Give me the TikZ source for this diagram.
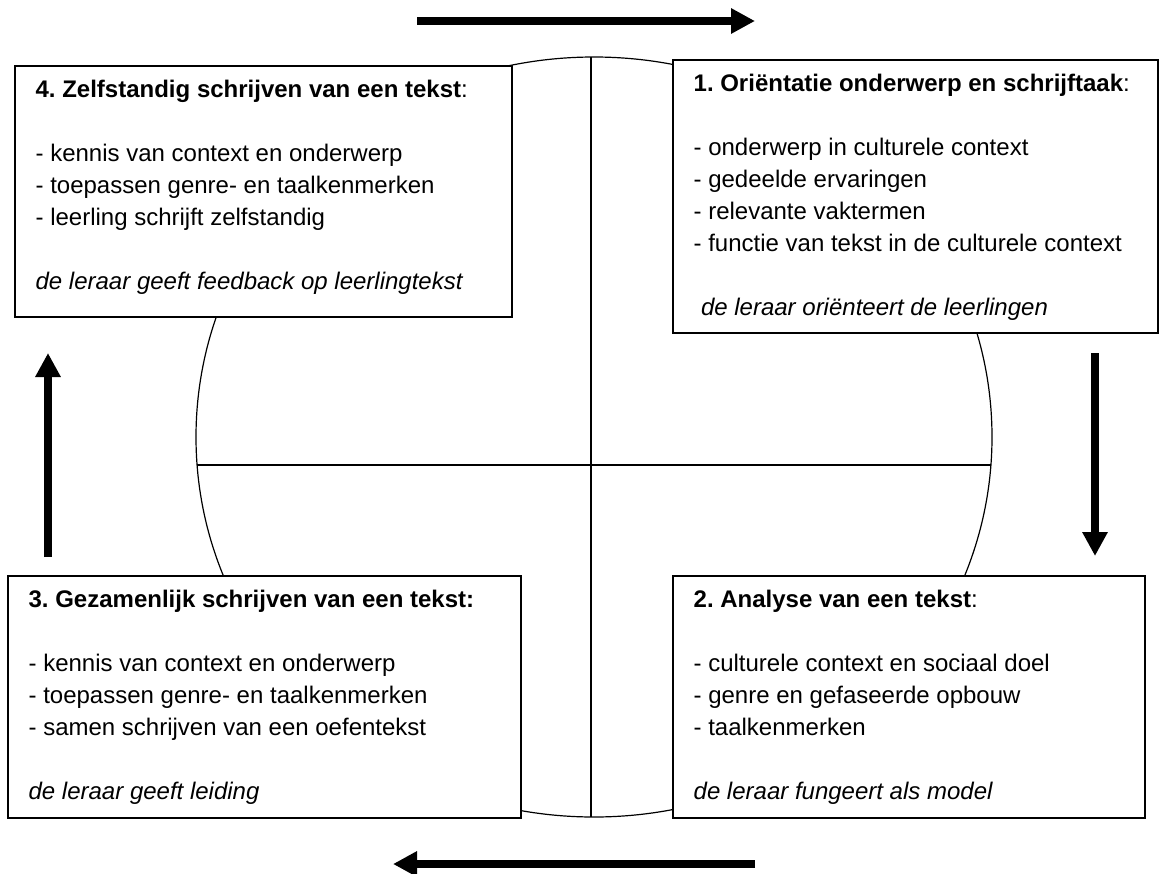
\documentclass[tikz,border=0pt]{standalone}
\usepackage{fontspec}
\setmainfont{Liberation Sans}
\frenchspacing
\usetikzlibrary{arrows.meta,fit}
\tikzset{
  box/.style={draw,line width=0.75pt,fill=white,inner sep=0pt},
  txt/.style={align=left,anchor=north west,inner xsep=10.5pt,inner ysep=4.8pt,
    font=\fontsize{12}{16}\selectfont},
  flow/.style={line width=4pt,-{Triangle[length=12pt,width=12pt]}}
}
\begin{document}
\begin{tikzpicture}[x=0.5pt,y=-0.5pt]
      \useasboundingbox (0,0) rectangle (1162,873);
      \coordinate (mid) at (594,437);
      \coordinate (n) at (591,57);
      \coordinate (s) at (591,817);
      \coordinate (w) at (197,465);
      \coordinate (e) at (991,465);
      \draw[line width=0.6pt] (mid) ellipse [x radius=398, y radius=380];
      \draw[line width=0.6pt] (n) -- (s);
      \draw[line width=0.6pt] (w) -- (e);
      \def \Boxes{
        1/673/60/1158/333,
        2/673/576/1145/818,
        3/8/576/521/818,
        4/15/66/512/317}
      \foreach \id / \xa / \ya / \xb / \yb in \Boxes{
        \node[box, fit={(\xa,\ya) (\xb,\yb)}] (b\id) {};
      }
      \node[txt] (t1) at (b1.north west) {\strut\textbf{1. Oriëntatie onderwerp en schrijftaak}:\\[16pt]
        - onderwerp in culturele context\\
        - gedeelde ervaringen\\
        - relevante vaktermen\\
        - functie van tekst in de culturele context\\[16pt]
        \hspace*{3.7pt}\textit{de leraar oriënteert de leerlingen}};
      \node[txt] (t2) at (b2.north west) {\strut\textbf{2. Analyse van een tekst}:\\[16pt]
        - culturele context en sociaal doel\\
        - genre en gefaseerde opbouw\\
        - taalkenmerken\\[16pt]
        \textit{de leraar fungeert als model}};
      \node[txt] (t3) at (b3.north west) {\strut\textbf{3. Gezamenlijk schrijven van een tekst:}\\[16pt]
        - kennis van context en onderwerp\\
        - toepassen genre- en taalkenmerken\\
        - samen schrijven van een oefentekst\\[16pt]
        \textit{de leraar geeft leiding}};
      \node[txt] (t4) at (b4.north west) {\strut\textbf{4. Zelfstandig schrijven van een tekst}:\\[16pt]
        - kennis van context en onderwerp\\
        - toepassen genre- en taalkenmerken\\
        - leerling schrijft zelfstandig\\[16pt]
        \textit{de leraar geeft feedback op leerlingtekst}};
      \def \Arrows{
        a/417/21/755/21,
        b/1095/353/1095/556,
        c/755/864/393/864,
        d/48/557/48/353}
      \foreach \id / \xa / \ya / \xb / \yb in \Arrows{
        \coordinate (\id0) at (\xa,\ya);
        \coordinate (\id1) at (\xb,\yb);
        \draw[flow] (\id0) -- (\id1);
      }
    \end{tikzpicture}
\end{document}
